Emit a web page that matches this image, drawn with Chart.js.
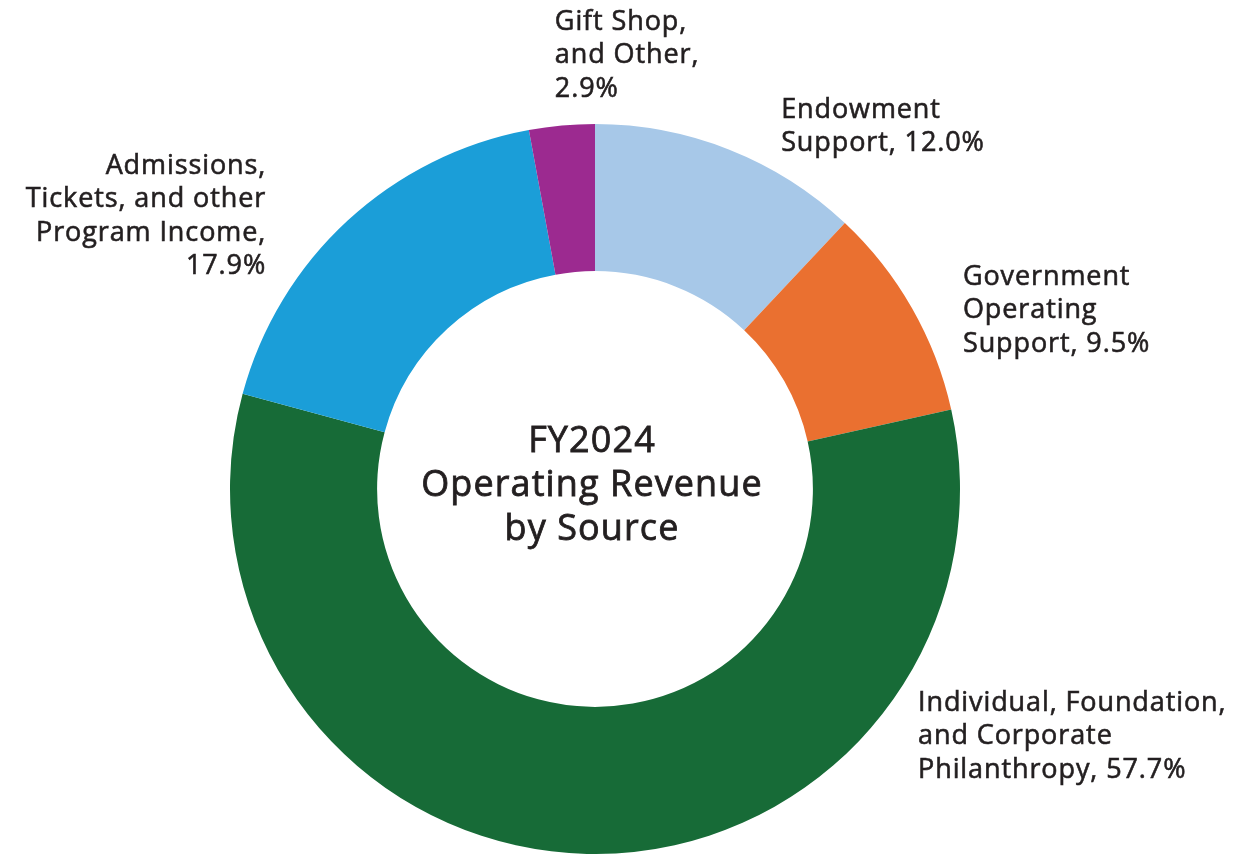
<!DOCTYPE html>
<html lang="en">
<head>
  <meta charset="UTF-8" />
  <title>FY2024 Operating Revenue by Source</title>
  <style>
    * { box-sizing: border-box; margin: 0; padding: 0; }
    body { background: #fff; width: 1239px; height: 854px; overflow: hidden; }
    #wrap { position: relative; width: 1239px; height: 854px; }
  </style>
  <script src="https://cdn.jsdelivr.net/npm/chart.js"></script>
</head>
<body>
  <div id="wrap"><canvas id="revenueChart"></canvas></div>

  <script>
    // data, clockwise from 12 o'clock
    const categories = [
      ['Endowment', 'Support, 12.0%'],
      ['Government', 'Operating', 'Support, 9.5%'],
      ['Individual, Foundation,', 'and Corporate', 'Philanthropy, 57.7%'],
      ['Admissions,', 'Tickets, and other', 'Program Income,', '17.9%'],
      ['Gift Shop,', 'and Other,', '2.9%']
    ];
    const shares = [12.0, 9.5, 57.7, 17.9, 2.9];
    const sliceColors = ['#a7c8e8', '#ea7030', '#176b37', '#1b9ed8', '#9c2a90'];
    const centerTitle = ['FY2024', 'Operating Revenue', 'by Source'];

    // label anchors, in units of the outer radius from the ring centre
    const labelAnchor = [
      { x: 0.510, y: -1.038, align: 'left' },
      { x: 1.008, y: -0.581, align: 'left' },
      { x: 0.885, y: 0.586, align: 'left' },
      { x: -0.901, y: -0.885, align: 'right' },
      { x: -0.110, y: -1.279, align: 'left' }
    ];

    const textColor = '#231f20';
    const fontFamily = "'Open Sans', 'Noto Sans', sans-serif";

    function drawLine(ctx, text, x, y) {
      ctx.fillText(text, x, y);
      ctx.strokeText(text, x, y); // thin stroke gives a medium weight
    }

    const labelPlugin = {
      id: 'ringLabels',
      afterDraw(chart) {
        const ctx = chart.ctx;
        const arcs = chart.getDatasetMeta(0).data;
        if (!arcs.length) return;
        const cx = arcs[0].x, cy = arcs[0].y, r = arcs[0].outerRadius;

        ctx.save();
        ctx.fillStyle = textColor;
        ctx.strokeStyle = textColor;
        ctx.lineWidth = 0.6;
        ctx.textBaseline = 'middle';

        // slice labels
        ctx.font = '27px ' + fontFamily;
        ctx.letterSpacing = '0.9px';
        categories.forEach((lines, i) => {
          const a = labelAnchor[i];
          ctx.textAlign = a.align;
          lines.forEach((line, j) => {
            drawLine(ctx, line, cx + a.x * r, cy + a.y * r + j * 33.5);
          });
        });

        // title in the hole
        ctx.font = '36px ' + fontFamily;
        ctx.letterSpacing = '1.1px';
        ctx.lineWidth = 0.8;
        ctx.textAlign = 'center';
        const lh = 44;
        centerTitle.forEach((line, j) => {
          drawLine(ctx, line, cx - 3, cy - 47 + j * lh);
        });
        ctx.restore();
      }
    };

    const ctx = document.getElementById('revenueChart').getContext('2d');
    new Chart(ctx, {
      type: 'doughnut',
      data: {
        labels: categories.map(l => l.join(' ')),
        datasets: [{
          data: shares,
          backgroundColor: sliceColors,
          borderWidth: 0
        }]
      },
      options: {
        responsive: true,
        maintainAspectRatio: false,
        animation: false,
        cutout: '59.7%',
        layout: {
          padding: { top: 124, bottom: 0, left: 230, right: 279 }
        },
        plugins: {
          legend: { display: false },
          tooltip: { enabled: false }
        }
      },
      plugins: [labelPlugin]
    });
  </script>
</body>
</html>
